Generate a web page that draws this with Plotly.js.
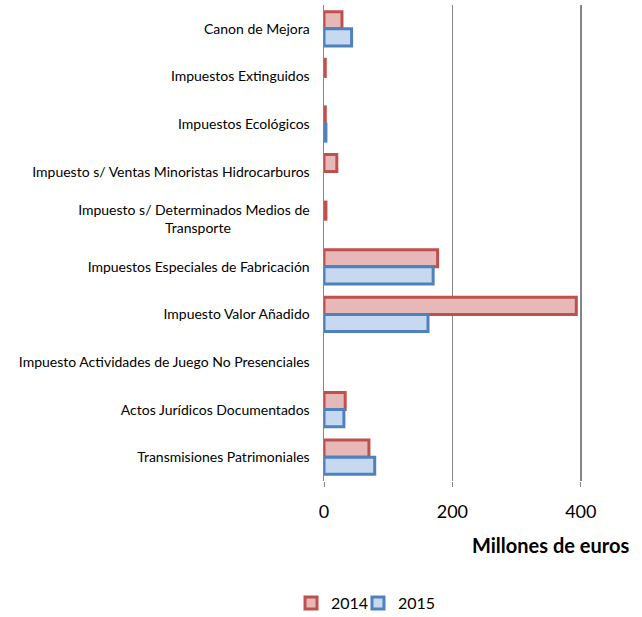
<!DOCTYPE html>
<html>
<head>
<meta charset="utf-8">
<script src="https://cdn.plot.ly/plotly-3.0.1.min.js"></script>
<style>html,body{margin:0;padding:0;background:#fff;}#chart{width:642px;height:617px;}</style>
</head>
<body>
<div id="chart"></div>
<script>
// Categories, top to bottom
var categories = [
  "Canon de Mejora",
  "Impuestos Extinguidos",
  "Impuestos Ecológicos",
  "Impuesto s/ Ventas Minoristas Hidrocarburos",
  "Impuesto s/ Determinados Medios de Transporte",
  "Impuestos Especiales de Fabricación",
  "Impuesto Valor Añadido",
  "Impuesto Actividades de Juego No Presenciales",
  "Actos Jurídicos Documentados",
  "Transmisiones Patrimoniales"
];
var tickLabels = [
  "Canon de Mejora",
  "Impuestos Extinguidos",
  "Impuestos Ecológicos",
  "Impuesto s/ Ventas Minoristas Hidrocarburos",
  "Impuesto s/ Determinados Medios de<br>Transporte\u00A0\u00A0\u00A0\u00A0\u00A0\u00A0\u00A0\u00A0\u00A0\u00A0\u00A0\u00A0\u00A0\u00A0\u00A0\u00A0\u00A0\u00A0\u00A0\u00A0\u00A0\u00A0",
  "Impuestos Especiales de Fabricación",
  "Impuesto Valor Añadido",
  "Impuesto Actividades de Juego No Presenciales",
  "Actos Jurídicos Documentados",
  "Transmisiones Patrimoniales"
];
var values2014 = [28, 2, 2, 20, 3, 177, 393, 0, 33, 70];
var values2015 = [43, 0, 3, 0, 0, 170, 162, 0, 31, 79];
var seriesNames = ["2014", "2015"];
var xTicks = [0, 200, 400];

var font = "Lato, 'Open Sans', sans-serif";

function borderWidths(vals) {
  return vals.map(function (v) { return v > 0 ? 3 : 0; });
}

var traces = [
  {
    type: "bar", orientation: "h", name: seriesNames[0], legend: "legend",
    y: categories, x: values2014,
    marker: {color: "#E6B9B8", line: {color: "#C0504D", width: borderWidths(values2014)}},
    hoverinfo: "x+y"
  },
  {
    type: "bar", orientation: "h", name: seriesNames[1], legend: "legend2",
    y: categories, x: values2015,
    marker: {color: "#C6D9F1", line: {color: "#4F81BD", width: borderWidths(values2015)}},
    hoverinfo: "x+y"
  }
];

var legendBase = {
  orientation: "h", yanchor: "middle", xanchor: "left",
  xref: "container", yref: "container",
  font: {size: 16, family: font, color: "#000"}, itemwidth: 30,
  bgcolor: "rgba(0,0,0,0)"
};

var layout = {
  width: 642, height: 617,
  margin: {l: 324, r: 58, t: 5, b: 136, autoexpand: false},
  paper_bgcolor: "#fff", plot_bgcolor: "#fff",
  font: {family: font, color: "#000"},
  barmode: "group",
  bargap: 0.28,
  bargroupgap: 0,
  showlegend: true,
  legend: Object.assign({}, legendBase, {x: 0.4533, y: 0.0227}),
  legend2: Object.assign({}, legendBase, {x: 0.5576, y: 0.0227}),
  xaxis: {
    range: [0, 405], tickvals: xTicks, ticktext: xTicks.map(String),
    showgrid: true, gridcolor: "#868686", gridwidth: 1.5,
    zeroline: false, showline: false,
    ticks: "outside", ticklen: 5, tickcolor: "#868686", tickwidth: 1,
    tickfont: {size: 18, family: font, color: "#000"},
    ticklabelstandoff: 9,
    fixedrange: true
  },
  yaxis: {
    type: "category", autorange: "reversed",
    tickvals: categories, ticktext: tickLabels,
    showline: true, linecolor: "#868686", linewidth: 1.5,
    showgrid: false, zeroline: false, ticks: "",
    ticklabelstandoff: 10,
    tickfont: {size: 14, family: font, color: "#000"},
    fixedrange: true
  },
  annotations: [
    {
      text: "<b>Millones de euros</b>", xref: "paper", yref: "paper",
      x: 0.872, y: -0.135, xanchor: "center", yanchor: "middle",
      showarrow: false, font: {size: 20, family: font, color: "#000"}
    }
  ]
};

Plotly.newPlot("chart", traces, layout, {displayModeBar: false, staticPlot: true});
</script>
</body>
</html>
